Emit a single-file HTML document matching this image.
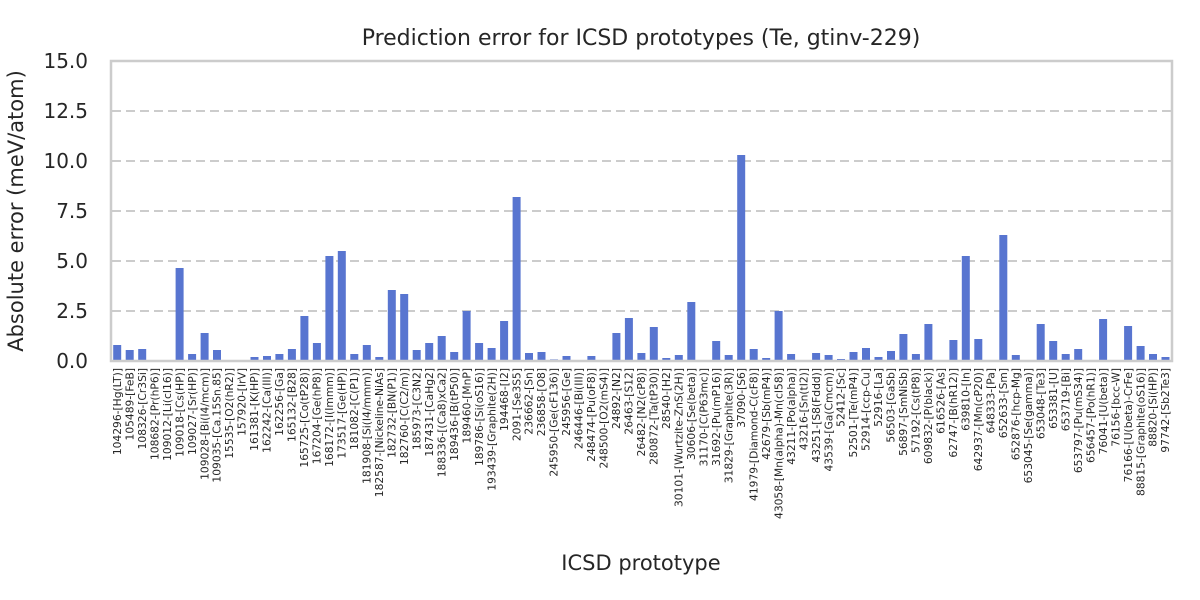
<!DOCTYPE html>
<html><head><meta charset="utf-8"><style>
body{margin:0;background:#fff}
svg{display:block;font-family:"DejaVu Sans","Liberation Sans",sans-serif;fill:#262626}
</style></head><body>
<svg width="1200" height="600" viewBox="0 0 1200 600" xmlns="http://www.w3.org/2000/svg">
<rect width="1200" height="600" fill="#fff"/>
<text x="641" y="45" font-size="22" text-anchor="middle">Prediction error for ICSD prototypes (Te, gtinv-229)</text>
<g stroke="#cccccc" stroke-width="2" stroke-dasharray="9,5">
<line x1="112" x2="1171" y1="311" y2="311"/><line x1="112" x2="1171" y1="261" y2="261"/><line x1="112" x2="1171" y1="211" y2="211"/><line x1="112" x2="1171" y1="161" y2="161"/><line x1="112" x2="1171" y1="111" y2="111"/>
</g>
<g font-size="20" text-anchor="end">
<text x="88" y="368">0.0</text><text x="88" y="318">2.5</text><text x="88" y="268">5.0</text><text x="88" y="218">7.5</text><text x="88" y="168">10.0</text><text x="88" y="118">12.5</text><text x="88" y="68">15.0</text>
</g>
<text transform="translate(23,211) rotate(-90)" font-size="21" text-anchor="middle">Absolute error (meV/atom)</text>
<text x="641" y="570" font-size="21" text-anchor="middle">ICSD prototype</text>
<g transform="translate(0,361) scale(1,-20)" fill="#5875d0">
<rect x="113.2" width="8" height="0.8"/><rect x="125.7" width="8" height="0.55"/><rect x="138.2" width="8" height="0.6"/><rect x="175.6" width="8" height="4.65"/><rect x="188.1" width="8" height="0.35"/><rect x="200.6" width="8" height="1.4"/><rect x="213" width="8" height="0.55"/><rect x="250.5" width="8" height="0.2"/><rect x="263" width="8" height="0.25"/><rect x="275.4" width="8" height="0.35"/><rect x="287.9" width="8" height="0.6"/><rect x="300.4" width="8" height="2.25"/><rect x="312.9" width="8" height="0.9"/><rect x="325.4" width="8" height="5.25"/><rect x="337.8" width="8" height="5.5"/><rect x="350.3" width="8" height="0.35"/><rect x="362.8" width="8" height="0.8"/><rect x="375.3" width="8" height="0.2"/><rect x="387.8" width="8" height="3.55"/><rect x="400.2" width="8" height="3.35"/><rect x="412.7" width="8" height="0.55"/><rect x="425.2" width="8" height="0.9"/><rect x="437.7" width="8" height="1.25"/><rect x="450.2" width="8" height="0.45"/><rect x="462.6" width="8" height="2.5"/><rect x="475.1" width="8" height="0.9"/><rect x="487.6" width="8" height="0.65"/><rect x="500.1" width="8" height="2.0"/><rect x="512.6" width="8" height="8.2"/><rect x="525" width="8" height="0.4"/><rect x="537.5" width="8" height="0.45"/><rect x="550" width="8" height="0.08"/><rect x="562.5" width="8" height="0.25"/><rect x="587.4" width="8" height="0.25"/><rect x="599.9" width="8" height="0.05"/><rect x="612.4" width="8" height="1.4"/><rect x="624.9" width="8" height="2.15"/><rect x="637.4" width="8" height="0.4"/><rect x="649.8" width="8" height="1.7"/><rect x="662.3" width="8" height="0.15"/><rect x="674.8" width="8" height="0.3"/><rect x="687.3" width="8" height="2.95"/><rect x="699.8" width="8" height="0.05"/><rect x="712.2" width="8" height="1.0"/><rect x="724.7" width="8" height="0.3"/><rect x="737.2" width="8" height="10.3"/><rect x="749.7" width="8" height="0.6"/><rect x="762.2" width="8" height="0.15"/><rect x="774.6" width="8" height="2.5"/><rect x="787.1" width="8" height="0.35"/><rect x="812.1" width="8" height="0.4"/><rect x="824.6" width="8" height="0.3"/><rect x="837" width="8" height="0.1"/><rect x="849.5" width="8" height="0.45"/><rect x="862" width="8" height="0.65"/><rect x="874.5" width="8" height="0.2"/><rect x="887" width="8" height="0.5"/><rect x="899.4" width="8" height="1.35"/><rect x="911.9" width="8" height="0.35"/><rect x="924.4" width="8" height="1.85"/><rect x="936.9" width="8" height="0.05"/><rect x="949.4" width="8" height="1.05"/><rect x="961.8" width="8" height="5.25"/><rect x="974.3" width="8" height="1.1"/><rect x="999.3" width="8" height="6.3"/><rect x="1011.8" width="8" height="0.3"/><rect x="1024.2" width="8" height="0.05"/><rect x="1036.7" width="8" height="1.85"/><rect x="1049.2" width="8" height="1.0"/><rect x="1061.7" width="8" height="0.35"/><rect x="1074.2" width="8" height="0.6"/><rect x="1086.6" width="8" height="0.05"/><rect x="1099.1" width="8" height="2.1"/><rect x="1124.1" width="8" height="1.75"/><rect x="1136.6" width="8" height="0.75"/><rect x="1149" width="8" height="0.35"/><rect x="1161.5" width="8" height="0.2"/>
</g>
<rect x="111" y="61" width="1061" height="300" fill="none" stroke="#cccccc" stroke-width="2.5"/>
<g transform="rotate(-90)" font-size="10.7" text-anchor="end">
<text x="-368" y="120.9">104296-[Hg(LT)]</text>
<text x="-368" y="133.4">105489-[FeB]</text>
<text x="-368" y="145.9">108326-[Cr3Si]</text>
<text x="-368" y="158.3">108682-[Pr(hP6)]</text>
<text x="-368" y="170.8">109012-[Li(cI16)]</text>
<text x="-368" y="183.3">109018-[Cs(HP)]</text>
<text x="-368" y="195.8">109027-[Sr(HP)]</text>
<text x="-368" y="208.3">109028-[Bi(I4/mcm)]</text>
<text x="-368" y="220.7">109035-[Ca.15Sn.85]</text>
<text x="-368" y="233.2">15535-[O2(hR2)]</text>
<text x="-368" y="245.7">157920-[IrV]</text>
<text x="-368" y="258.2">161381-[K(HP)]</text>
<text x="-368" y="270.7">162242-[Ca(III)]</text>
<text x="-368" y="283.1">162256-[Ga]</text>
<text x="-368" y="295.6">165132-[B28]</text>
<text x="-368" y="308.1">165725-[Co(tP28)]</text>
<text x="-368" y="320.6">167204-[Ge(hP8)]</text>
<text x="-368" y="333.1">168172-[I(Immm)]</text>
<text x="-368" y="345.5">173517-[Ge(HP)]</text>
<text x="-368" y="358">181082-[C(P1)]</text>
<text x="-368" y="370.5">181908-[Si(I4/mmm)]</text>
<text x="-368" y="383">182587-[Nickeline-NiAs]</text>
<text x="-368" y="395.5">182732-[BN(P1)]</text>
<text x="-368" y="407.9">182760-[C(C2/m)]</text>
<text x="-368" y="420.4">185973-[C3N2]</text>
<text x="-368" y="432.9">187431-[CaHg2]</text>
<text x="-368" y="445.4">188336-[(Ca8)xCa2]</text>
<text x="-368" y="457.9">189436-[B(tP50)]</text>
<text x="-368" y="470.3">189460-[MnP]</text>
<text x="-368" y="482.8">189786-[Si(oS16)]</text>
<text x="-368" y="495.3">193439-[Graphite(2H)]</text>
<text x="-368" y="507.8">194468-[I2]</text>
<text x="-368" y="520.3">2091-[Se3S5]</text>
<text x="-368" y="532.7">236662-[Sn]</text>
<text x="-368" y="545.2">236858-[O8]</text>
<text x="-368" y="557.7">245950-[Ge(cF136)]</text>
<text x="-368" y="570.2">245956-[Ge]</text>
<text x="-368" y="582.7">246446-[Bi(III)]</text>
<text x="-368" y="595.1">248474-[Pu(oF8)]</text>
<text x="-368" y="607.6">248500-[O2(mS4)]</text>
<text x="-368" y="620.1">24892-[N2]</text>
<text x="-368" y="632.6">26463-[S12]</text>
<text x="-368" y="645.1">26482-[N2(cP8)]</text>
<text x="-368" y="657.5">280872-[Ta(tP30)]</text>
<text x="-368" y="670">28540-[H2]</text>
<text x="-368" y="682.5">30101-[Wurtzite-ZnS(2H)]</text>
<text x="-368" y="695">30606-[Se(beta)]</text>
<text x="-368" y="707.5">31170-[C(P63mc)]</text>
<text x="-368" y="719.9">31692-[Pu(mP16)]</text>
<text x="-368" y="732.4">31829-[Graphite(3R)]</text>
<text x="-368" y="744.9">37090-[S6]</text>
<text x="-368" y="757.4">41979-[Diamond-C(cF8)]</text>
<text x="-368" y="769.9">42679-[Sb(mP4)]</text>
<text x="-368" y="782.3">43058-[Mn(alpha)-Mn(cI58)]</text>
<text x="-368" y="794.8">43211-[Po(alpha)]</text>
<text x="-368" y="807.3">43216-[Sn(tI2)]</text>
<text x="-368" y="819.8">43251-[S8(Fddd)]</text>
<text x="-368" y="832.3">43539-[Ga(Cmcm)]</text>
<text x="-368" y="844.7">52412-[Sc]</text>
<text x="-368" y="857.2">52501-[Te(mP4)]</text>
<text x="-368" y="869.7">52914-[ccp-Cu]</text>
<text x="-368" y="882.2">52916-[La]</text>
<text x="-368" y="894.7">56503-[GaSb]</text>
<text x="-368" y="907.1">56897-[SmNiSb]</text>
<text x="-368" y="919.6">57192-[Cs(tP8)]</text>
<text x="-368" y="932.1">609832-[P(black)]</text>
<text x="-368" y="944.6">616526-[As]</text>
<text x="-368" y="957.1">62747-[B(hR12)]</text>
<text x="-368" y="969.5">639810-[In]</text>
<text x="-368" y="982">642937-[Mn(cP20)]</text>
<text x="-368" y="994.5">648333-[Pa]</text>
<text x="-368" y="1007">652633-[Sm]</text>
<text x="-368" y="1019.5">652876-[hcp-Mg]</text>
<text x="-368" y="1031.9">653045-[Se(gamma)]</text>
<text x="-368" y="1044.4">653048-[Te3]</text>
<text x="-368" y="1056.9">653381-[U]</text>
<text x="-368" y="1069.4">653719-[Bi]</text>
<text x="-368" y="1081.9">653797-[Pu(mS34)]</text>
<text x="-368" y="1094.3">656457-[Po(hR1)]</text>
<text x="-368" y="1106.8">76041-[U(beta)]</text>
<text x="-368" y="1119.3">76156-[bcc-W]</text>
<text x="-368" y="1131.8">76166-[U(beta)-CrFe]</text>
<text x="-368" y="1144.3">88815-[Graphite(oS16)]</text>
<text x="-368" y="1156.7">88820-[Si(HP)]</text>
<text x="-368" y="1169.2">97742-[Sb2Te3]</text>
</g>
</svg>
</body></html>
